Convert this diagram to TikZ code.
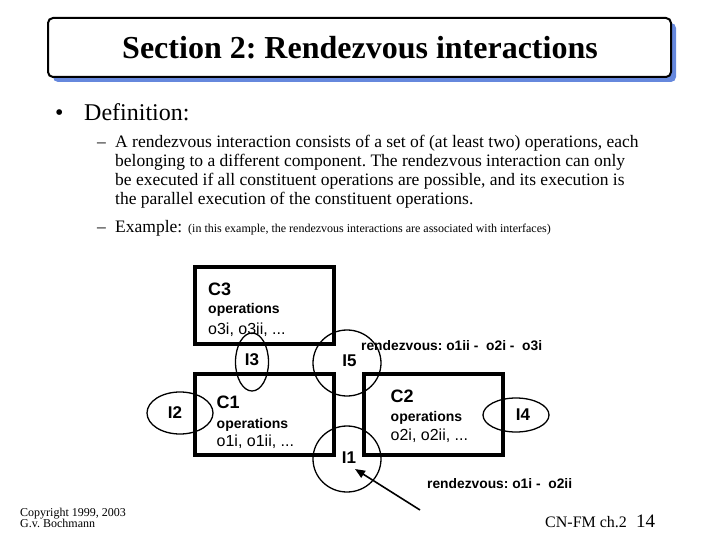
\documentclass[tikz,border=0pt]{standalone}
\usepackage{fontspec}
\setmainfont{Liberation Serif}
\setsansfont{Liberation Sans}
\usetikzlibrary{arrows.meta,shapes.geometric,shadows}
\definecolor{shadowblue}{RGB}{102,136,221}
\frenchspacing
\tikzset{
  comp/.style={draw, line width=4pt, inner sep=0pt},
  iface/.style={draw, ellipse, line width=1.3pt, inner sep=0pt},
  ctitle/.style={font=\sffamily\bfseries\fontsize{18}{18}\selectfont, inner sep=0pt, anchor=base west},
  ilbl/.style={font=\sffamily\bfseries\fontsize{17}{17}\selectfont, inner sep=0pt},
  ops/.style={font=\sffamily\bfseries\fontsize{14}{14}\selectfont, inner sep=0pt, anchor=base west},
  olist/.style={font=\sffamily\fontsize{16}{16}\selectfont, inner sep=0pt, anchor=base west},
  rdv/.style={font=\sffamily\bfseries\fontsize{13.8}{13.8}\selectfont, inner sep=0pt, anchor=base west},
  body/.style={font=\fontsize{17.5}{19}\selectfont, inner sep=0pt, anchor=base west},
  small/.style={font=\fontsize{12}{12}\selectfont, inner sep=0pt, anchor=base west},
  foot/.style={font=\fontsize{12}{12}\selectfont, inner sep=0pt, anchor=base west},
}
\begin{document}
\begin{tikzpicture}[x=1pt,y=-1pt]
\useasboundingbox (0,0) rectangle (720,540);
% title
\node (titlebox) [draw, fill=white, line width=2pt, rounded corners=5pt,
  minimum width=623pt, minimum height=59pt, inner sep=0pt,
  drop shadow={shadow xshift=5pt, shadow yshift=-5pt, fill=shadowblue, opacity=1}]
  at (359.5,47.5) {};
\node (title) [font=\bfseries\fontsize{32}{32}\selectfont, inner sep=0pt, anchor=base] at (360,58.5)
  {Section 2: Rendezvous interactions};
% bullet text
\node (bul) [font=\fontsize{24}{24}\selectfont, inner sep=0pt, anchor=base west] at (55,121) {\textbullet};
\node (def) [font=\fontsize{24}{24}\selectfont, inner sep=0pt, anchor=base west] at (84,121) {Definition:};
\node (d1) [body] at (97,147.5) {--};
\node (l1) [body] at (115,147.5) {A rendezvous interaction consists of a set of (at least two) operations, each};
\node (l2) [body] at (115,166.5) {belonging to a different component. The rendezvous interaction can only};
\node (l3) [body] at (115,185.5) {be executed if all constituent operations are possible, and its execution is};
\node (l4) [body] at (115,204.5) {the parallel execution of the constituent operations.};
\node (d2) [body] at (97,233) {--};
\node (ex) [body] at (115,233) {Example:};
\node (exn) [small] at (188,233) {(in this example, the rendezvous interactions are associated with interfaces)};
% component boxes
\node (C3) [comp, minimum width=139.5pt, minimum height=77pt] at (264.25,305.5) {};
\node (C1) [comp, minimum width=139.5pt, minimum height=80.5pt] at (264.25,414.25) {};
\node (C2) [comp, minimum width=139pt, minimum height=81pt] at (433,414.5) {};
% interfaces
\node (I3) [iface, minimum width=33pt, minimum height=58pt] at (252,362) {};
\node (I5) [iface, minimum width=68pt, minimum height=66pt] at (347,363) {};
\node (I1) [iface, minimum width=68pt, minimum height=66pt] at (347,459) {};
\node (I2) [iface, minimum width=66pt, minimum height=42pt] at (180,413) {};
\node (I4) [iface, minimum width=66pt, minimum height=34pt] at (516,415) {};
\node (I3t) [ilbl] at (252,360) {I3};
\node (I5t) [ilbl] at (349.5,360.5) {I5};
\node (I1t) [ilbl] at (349,457.5) {I1};
\node (I2t) [ilbl] at (175,412.5) {I2};
\node (I4t) [ilbl] at (523,415) {I4};
% component texts
\node (c3t) [ctitle] at (208,295.5) {C3};
\node (c3o) [ops] at (208,313) {operations};
\node (c3l) [olist] at (208,334.5) {o3i, o3ii, ...};
\node (c1t) [ctitle] at (216.5,408.5) {C1};
\node (c1o) [ops] at (216.5,428) {operations};
\node (c1l) [olist] at (216.5,446.5) {o1i, o1ii, ...};
\node (c2t) [ctitle] at (390.5,402) {C2};
\node (c2o) [ops] at (390.5,421) {operations};
\node (c2l) [olist] at (390.5,440.5) {o2i, o2ii, ...};
% rendezvous labels
\node (r1) [rdv] at (361,350) {rendezvous: o1ii -\ \ o2i -\ \ o3i};
\node (r2) [rdv] at (427,488) {rendezvous: o1i -\ \ o2ii};
% arrow
\coordinate (atail) at (420,510);
\coordinate (atip) at (355,469);
\draw[line width=1.6pt, -{Triangle[length=10pt,width=8pt]}] (atail) -- (atip);
% footer
\node (cp1) [foot] at (20,516) {Copyright 1999, 2003};
\node (cp2) [foot] at (20,527) {G.v. Bochmann};
\node (cn) [font=\fontsize{16}{16}\selectfont, inner sep=0pt, anchor=base west] at (545,527.5) {CN-FM ch.2};
\node (pg) [font=\fontsize{19}{19}\selectfont, inner sep=0pt, anchor=base west] at (636,527.5) {14};
\end{tikzpicture}
\end{document}
